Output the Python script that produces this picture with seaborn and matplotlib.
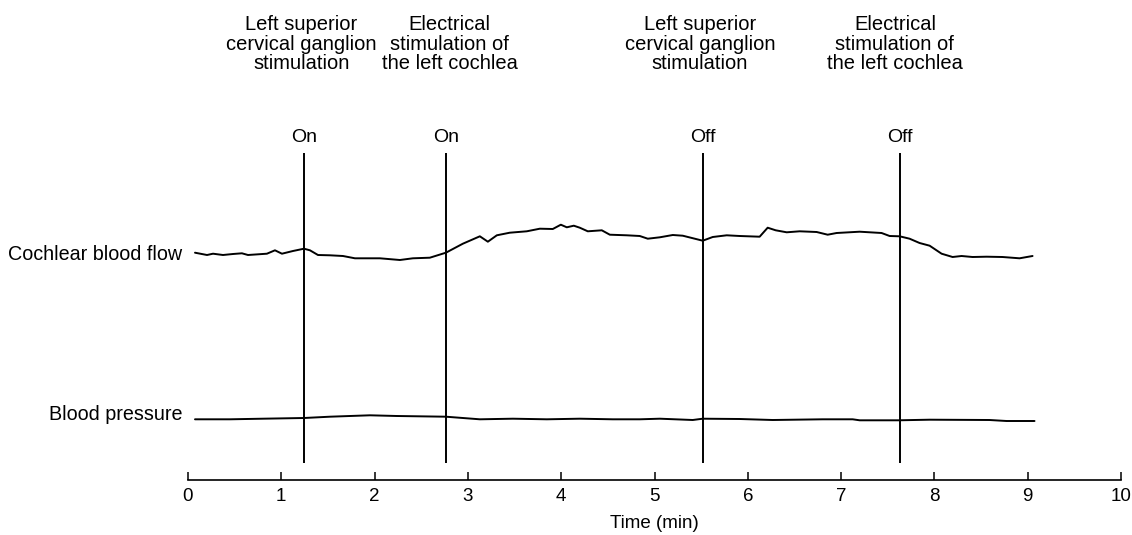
import numpy as np
import pandas as pd
import matplotlib
matplotlib.use("Agg")
import matplotlib.pyplot as plt
import seaborn as sns

# style
sns.set_style("white")
plt.rcParams["font.family"] = ["Liberation Sans", "DejaVu Sans"]
plt.rcParams["text.color"] = "black"
plt.rcParams["axes.labelcolor"] = "black"
plt.rcParams["xtick.color"] = "black"

# traces (time in min, trace height in arbitrary units)
flow_time = [0.075, 0.204, 0.268, 0.375, 0.482, 0.578, 0.643, 0.846, 0.932, 1.007,
             1.125, 1.243, 1.307, 1.393, 1.521, 1.661, 1.789, 2.057, 2.271, 2.410,
             2.592, 2.764, 2.946, 3.128, 3.214, 3.310, 3.449, 3.631, 3.771, 3.910,
             3.996, 4.060, 4.135, 4.199, 4.285, 4.435, 4.521, 4.703, 4.842, 4.928,
             5.057, 5.196, 5.303, 5.517, 5.624, 5.774, 5.913, 6.127, 6.213, 6.299,
             6.417, 6.556, 6.738, 6.856, 6.952, 7.199, 7.434, 7.520, 7.627, 7.734,
             7.841, 7.949, 8.077, 8.195, 8.291, 8.409, 8.559, 8.730, 8.913, 9.052]
flow_value = [227.3, 225.0, 226.3, 225.0, 226.0, 226.7, 225.0, 226.3, 229.7, 226.3,
              229.0, 231.3, 229.7, 225.0, 224.7, 224.0, 221.7, 221.7, 220.0, 221.7,
              222.3, 227.3, 236.3, 243.7, 238.3, 244.7, 247.3, 248.7, 251.3, 251.0,
              255.3, 252.7, 254.3, 252.3, 248.7, 249.7, 245.3, 244.7, 244.0, 241.3,
              242.7, 245.0, 244.3, 239.3, 243.0, 244.7, 244.0, 243.3, 252.3, 249.7,
              247.7, 248.7, 248.0, 245.3, 247.0, 248.3, 247.0, 244.0, 243.7, 241.3,
              237.0, 234.3, 226.3, 223.0, 224.0, 223.0, 223.3, 223.0, 221.7, 224.0]

bp_time = [0.075, 0.450, 0.803, 1.243, 1.521, 1.950, 2.239, 2.764, 3.128, 3.482,
           3.846, 4.199, 4.553, 4.842, 5.057, 5.410, 5.517, 5.913, 6.267, 6.802,
           7.124, 7.199, 7.617, 7.949, 8.591, 8.773, 9.073]
bp_value = [60.7, 60.7, 61.3, 62.0, 63.3, 64.7, 64.0, 63.3, 60.7, 61.3,
            60.7, 61.3, 60.7, 60.7, 61.3, 60.0, 61.3, 61.0, 60.0, 60.7,
            60.7, 59.7, 59.7, 60.3, 60.0, 59.0, 59.0]

# stimulation events
event_times = [1.243, 2.764, 5.517, 7.627]
event_states = ["On", "On", "Off", "Off"]
event_labels = ["Left superior\ncervical ganglion\nstimulation",
                "Electrical\nstimulation of\nthe left cochlea",
                "Left superior\ncervical ganglion\nstimulation",
                "Electrical\nstimulation of\nthe left cochlea"]

trace_names = ["Cochlear blood flow", "Blood pressure"]
trace_label_y = [226, 66]

flow_df = pd.DataFrame({"time": flow_time, "value": flow_value})
bp_df = pd.DataFrame({"time": bp_time, "value": bp_value})

fig = plt.figure(figsize=(11.32, 5.35), dpi=100)
ax = fig.add_axes([188 / 1132, 55 / 535, 933 / 1132, 480 / 535])

sns.lineplot(data=flow_df, x="time", y="value", color="black", lw=1.4, ax=ax)
sns.lineplot(data=bp_df, x="time", y="value", color="black", lw=1.4, ax=ax)

# event markers
ax.vlines(event_times, 17, 327, color="black", lw=1.4)
label_shift = [-0.03, 0.04, -0.03, -0.05]
for t, state, lab, dx in zip(event_times, event_states, event_labels, label_shift):
    ax.text(t, 342, state, ha="center", va="center", fontsize=14)
    ax.text(t + dx, 436, lab, ha="center", va="center", fontsize=14.5,
            linespacing=1.05, clip_on=False)

for name, y in zip(trace_names, trace_label_y):
    ax.text(-0.06, y, name, ha="right", va="center", fontsize=14.2, clip_on=False)

ax.set_xlim(0, 10)
ax.set_ylim(0, 480)
ax.set_xticks(range(0, 11))
ax.set_yticks([])
ax.set_xlabel("Time (min)", fontsize=13.5, labelpad=7)
ax.set_ylabel("")
ax.tick_params(axis="x", bottom=True, direction="in", length=5.5, width=1.1,
               labelsize=13.5, pad=6, color="black")

sns.despine(ax=ax, left=True, top=True, right=True)
ax.spines["bottom"].set_color("black")
ax.spines["bottom"].set_linewidth(1.2)

fig.savefig("out.png", dpi=100)
plt.close(fig)
